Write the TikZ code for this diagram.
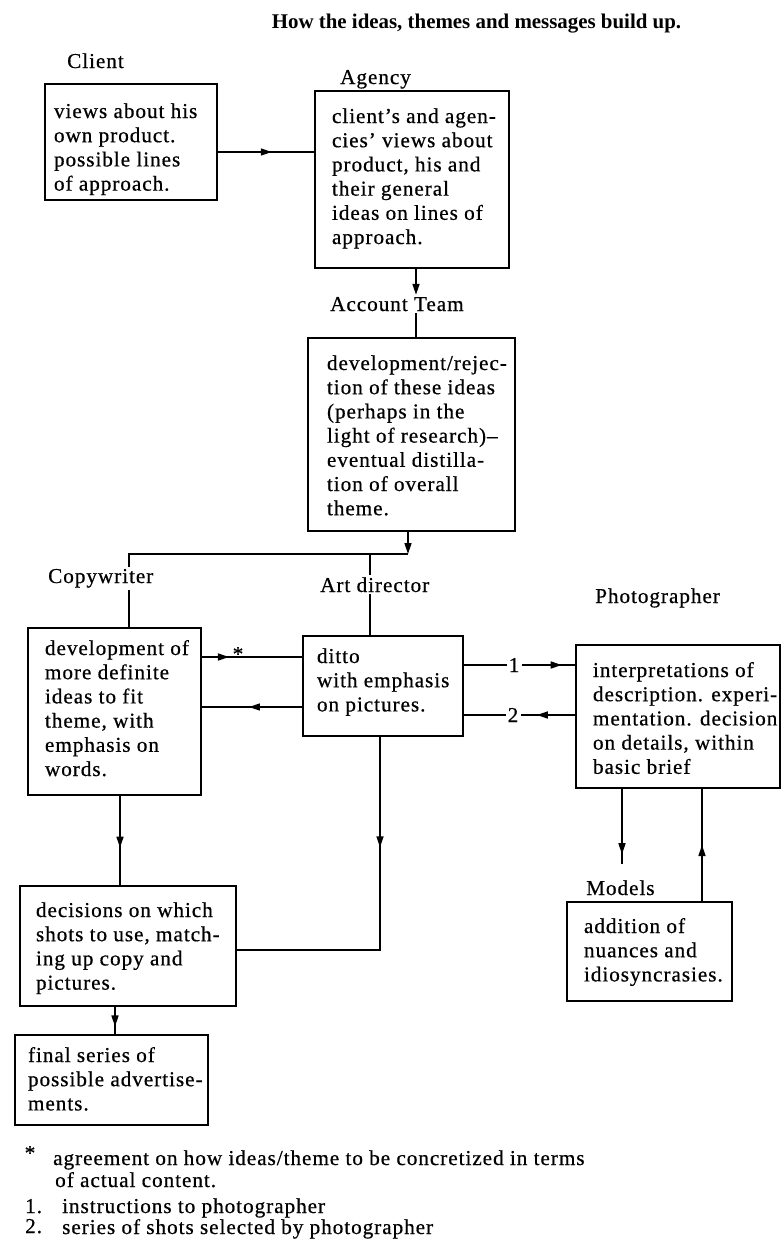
\documentclass[tikz,border=0pt]{standalone}
\usepackage{fontspec}
\setmainfont{Liberation Serif}[LetterSpace=4.5,FakeBold=0.6]
\newfontfamily\titlefont{Liberation Serif}
\usetikzlibrary{arrows.meta,decorations.markings}
\newcommand\bodyfont{\fontsize{21.2}{24.2}\selectfont}
\newcommand\boxlines[2]{\makebox[#1][l]{\begin{tabular}[t]{@{}l@{}}#2\end{tabular}}}
\tikzset{
  bx/.style={draw, line width=1.8pt, inner sep=0pt, font=\bodyfont, text height=0pt},
  lbl/.style={font=\bodyfont, inner sep=2pt, anchor=base west},
  num/.style={font=\bodyfont, inner sep=2pt},
  ln/.style={line width=1.6pt},
  tip/.style={-{Triangle[length=11pt,width=7pt]}},
  midarr/.style={decoration={markings, mark=at position #1 with {\arrow{Triangle[length=11pt,width=7pt]}}}, postaction={decorate}},
}
\begin{document}
\begin{tikzpicture}[x=1pt,y=-1pt]
\useasboundingbox (0,0) rectangle (782,1250);
% title
\node[font=\titlefont\bfseries\fontsize{20.9}{24}\selectfont, anchor=base, inner sep=0pt] (title) at (476.5,28) {How the ideas, themes and messages build up.};
% labels
\node[lbl] (clientlbl) at (65,68) {Client};
\node[lbl] (agencylbl) at (338,84) {Agency};
\node[lbl] (acctlbl) at (328,311) {Account Team};
\node[lbl] (cwlbl) at (46,583) {Copywriter};
\node[lbl] (adlbl) at (318,592) {Art director};
\node[lbl] (phlbl) at (593,603) {Photographer};
\node[lbl] (mdlbl) at (584,895) {Models};
% boxes
\node[bx, minimum width=172pt, minimum height=116pt, text depth=48pt] (client) at (131,142)
  {\boxlines{154pt}{views about his\\own product.\\possible lines\\of approach.}};
\node[bx, minimum width=194pt, minimum height=177pt, text depth=113pt] (agency) at (412,179.5)
  {\boxlines{160pt}{client's and agen-\\cies' views about\\product, his and\\their general\\ideas on lines of\\approach.}};
\node[bx, minimum width=207pt, minimum height=193pt, text depth=129pt] (acct) at (411.5,434.5)
  {\boxlines{169pt}{development/rejec-\\tion of these ideas\\(perhaps in the\\light of research)--\\eventual distilla-\\tion of overall\\theme.}};
\node[bx, minimum width=173pt, minimum height=167pt, text depth=113pt] (copy) at (114.5,711.5)
  {\boxlines{139pt}{development of\\more definite\\ideas to fit\\theme, with\\emphasis on\\words.}};
\node[bx, minimum width=160pt, minimum height=100pt, text depth=46pt] (art) at (383,686)
  {\boxlines{132pt}{ditto\\with emphasis\\on pictures.}};
\node[bx, minimum width=204pt, minimum height=143pt, text depth=79pt] (photo) at (678,716.5)
  {\boxlines{170pt}{interpretations of\\description. experi-\\mentation. decision\\on details, within\\basic brief}};
\node[bx, minimum width=216pt, minimum height=120pt, text depth=58pt] (decisions) at (128,946)
  {\boxlines{184pt}{decisions on which\\shots to use, match-\\ing up copy and\\pictures.}};
\node[bx, minimum width=193pt, minimum height=90pt, text depth=36pt] (final) at (111.5,1080)
  {\boxlines{167pt}{final series of\\possible advertise-\\ments.}};
\node[bx, minimum width=165pt, minimum height=99pt, text depth=37pt] (models) at (649.5,951.5)
  {\boxlines{131pt}{addition of\\nuances and\\idiosyncrasies.}};
% connectors
\coordinate (p1) at ([yshift=-10pt]client.east);
\draw[ln, midarr=0.56] (p1) -- (p1 -| agency.west);
\coordinate (colA) at (416,0);
\draw[ln, tip] (agency.south -| colA) -- (acctlbl.north -| colA);
\draw[ln] (acctlbl.south -| colA) -- (acct.north -| colA);
\coordinate (jn) at (408,554);
\coordinate (jl) at (129,554);
\coordinate (jm) at (370,554);
\draw[ln, tip] (acct.south -| jn) -- (jn);
\draw[ln] (jn) -- (jl) -- (cwlbl.north -| jl);
\draw[ln] (cwlbl.south -| jl) -- (copy.north -| jl);
\draw[ln] (jm) -- (adlbl.north -| jm);
\draw[ln] (adlbl.south -| jm) -- (art.north -| jm);
% copywriter <-> art director
\coordinate (p2) at ([yshift=54.5pt]copy.east);
\draw[ln, midarr=0.27] (p2) -- (p2 -| art.west);
\node[num, inner sep=0pt] (ast) at (238,654) {*};
\coordinate (p3) at ([yshift=-21pt]art.west);
\draw[ln, midarr=0.53] (p3) -- (p3 -| copy.east);
% art director <-> photographer
\coordinate (p4) at ([yshift=21pt]art.east);
\node[num] (n1) at (514,665) {1};
\draw[ln] (p4) -- (n1.west);
\draw[ln, midarr=0.75] (n1.east) -- (p4 -| photo.west);
\coordinate (p5) at ([yshift=-29pt]art.east);
\node[num] (n2) at (513,715) {2};
\draw[ln, midarr=0.7] (p5 -| photo.west) -- (n2.east);
\draw[ln] (n2.west) -- (p5);
% down to decisions
\coordinate (colC) at (120,0);
\draw[ln, midarr=0.58] (copy.south -| colC) -- (decisions.north -| colC);
\coordinate (colD) at (380,950);
\draw[ln, midarr=0.31] (art.south -| colD) -- (colD) -- (colD -| decisions.east);
\coordinate (colE) at (115,0);
\draw[ln, midarr=0.72] (decisions.south -| colE) -- (final.north -| colE);
% photographer <-> models
\coordinate (mdn) at (622,864);
\draw[ln, midarr=0.87] (photo.south -| mdn) -- (mdn);
\coordinate (colF) at (702,0);
\draw[ln, midarr=0.5] (models.north -| colF) -- (photo.south -| colF);
% footnotes
\node[num, inner sep=0pt] (fnast) at (30,1153) {*};
\node[lbl, inner sep=0pt] (fn1) at (53,1165) {agreement on how ideas/theme to be concretized in terms};
\node[lbl, inner sep=0pt] (fn1b) at (55,1187) {of actual content.};
\node[lbl] (fn2n) at (23,1213) {1.};
\node[lbl] (fn2) at (60,1213) {instructions to photographer};
\node[lbl] (fn3n) at (23,1233) {2.};
\node[lbl] (fn3) at (60,1234) {series of shots selected by photographer};
\end{tikzpicture}
\end{document}
